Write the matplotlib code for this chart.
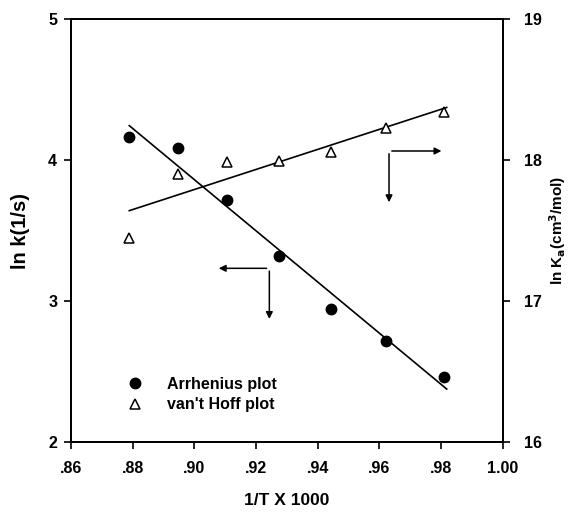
import numpy as np
import matplotlib
matplotlib.use("Agg")
import matplotlib.pyplot as plt

plt.rcParams['font.family'] = ['Liberation Sans', 'DejaVu Sans']
plt.rcParams['font.weight'] = 'bold'
plt.rcParams['axes.labelweight'] = 'bold'
plt.rcParams['mathtext.default'] = 'regular'

# 1/T x 1000
inv_T = [0.8789, 0.8948, 0.9105, 0.9275, 0.9444, 0.9622, 0.9808]
# ln k (1/s), left axis
ln_k = [4.165, 4.087, 3.716, 3.319, 2.945, 2.716, 2.463]
# ln Ka (cm3/mol), right axis
ln_Ka = [17.445, 17.903, 17.988, 17.995, 18.059, 18.225, 18.338]

xticks = [0.86, 0.88, 0.90, 0.92, 0.94, 0.96, 0.98, 1.00]
xtick_labels = ['.86', '.88', '.90', '.92', '.94', '.96', '.98', '1.00']

fig = plt.figure(figsize=(5.82, 5.14), dpi=100)
ax = fig.add_axes([0.122, 0.140, 0.742, 0.823])
ax2 = ax.twinx()

x = np.array(inv_T)
xfit = np.linspace(x.min(), x.max() + 0.001, 50)

p1 = np.polyfit(x, ln_k, 1)
ax.plot(xfit, np.polyval(p1, xfit), color='black', lw=1.2)
h1, = ax.plot(x, ln_k, 'o', color='black', ms=7.5, ls='none', label='Arrhenius plot')

p2 = np.polyfit(x, ln_Ka, 1)
ax2.plot(xfit, np.polyval(p2, xfit), color='black', lw=1.2)
h2, = ax2.plot(x, ln_Ka, '^', mfc='white', mec='black', mew=1.1, ms=6.5,
               ls='none', label="van't Hoff plot")

ax.set_xlim(0.86, 1.00)
ax.set_ylim(2, 5)
ax2.set_ylim(16, 19)
ax.set_xticks(xticks)
ax.set_xticklabels(xtick_labels)
ax.set_yticks([2, 3, 4, 5])
ax2.set_yticks([16, 17, 18, 19])

for a in (ax, ax2):
    a.tick_params(direction='out', length=5, width=1.2, labelsize=11.5)
    for s in a.spines.values():
        s.set_linewidth(1.4)
ax.tick_params(axis='x', pad=9)
ax.tick_params(axis='y', pad=5)
ax2.tick_params(axis='y', pad=10)

ax.set_xlabel('1/T X 1000', fontsize=12.5, labelpad=12)
ax.set_ylabel('ln k(1/s)', fontsize=14.5, labelpad=13)
ax2.set_ylabel(r'ln K$_\mathbf{a}$(cm$^\mathbf{3}$/mol)', fontsize=11, labelpad=4)

# direction arrows
arr = dict(arrowstyle='-|>', color='black', lw=1.1, mutation_scale=10)
ax.annotate('', xy=(0.907, 3.232), xytext=(0.9243, 3.232), arrowprops=arr)
ax.annotate('', xy=(0.9243, 2.853), xytext=(0.9243, 3.232), arrowprops=arr)
ax.annotate('', xy=(0.981, 4.064), xytext=(0.9631, 4.064), arrowprops=arr)
ax.annotate('', xy=(0.9631, 3.681), xytext=(0.9631, 4.064), arrowprops=arr)

ax.legend(handles=[h1, h2], loc='upper left', bbox_to_anchor=(0.107, 0.173),
          frameon=False, fontsize=11.5, handletextpad=1.4, labelspacing=0.35,
          borderpad=0, handlelength=1.2)

fig.savefig('out.png', dpi=100)
